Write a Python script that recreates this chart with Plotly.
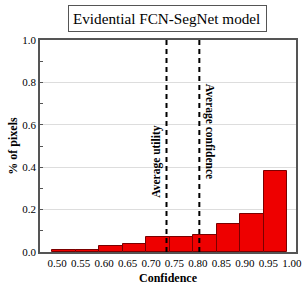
import plotly.graph_objects as go

# data
bin_left = [0.49, 0.54, 0.59, 0.64, 0.69, 0.74, 0.79, 0.84, 0.89, 0.94]
bin_width = 0.05
pct_pixels = [0.01, 0.01, 0.03, 0.04, 0.07, 0.07, 0.08, 0.13, 0.18, 0.38]
avg_utility = 0.733
avg_confidence = 0.803
x_ticks = [0.50, 0.55, 0.60, 0.65, 0.70, 0.75, 0.80, 0.85, 0.90, 0.95, 1.00]
y_ticks = [0.0, 0.2, 0.4, 0.6, 0.8, 1.0]

FONT = "Liberation Serif, Times New Roman, serif"
AX = "#555555"

centers = [b + bin_width / 2 for b in bin_left]

fig = go.Figure()
fig.add_trace(go.Bar(
    x=centers, y=pct_pixels, width=bin_width,
    marker=dict(color="#EE0000", line=dict(color="#7a0000", width=1)),
    showlegend=False, hoverinfo="skip",
))

for xv in (avg_utility, avg_confidence):
    fig.add_shape(type="line", xref="x", yref="y", x0=xv, x1=xv, y0=0, y1=1.0,
                  line=dict(color="black", width=2, dash="5px,4px"))

fig.add_annotation(x=avg_utility, y=0.428, xref="x", yref="y", text="<b>Average utility</b>",
                   textangle=-90, showarrow=False, xanchor="center", yanchor="middle", xshift=-10,
                   font=dict(family=FONT, size=11.5, color="black"))
fig.add_annotation(x=avg_confidence, y=0.57, xref="x", yref="y", text="<b>Average confidence</b>",
                   textangle=90, showarrow=False, xanchor="center", yanchor="middle", xshift=10,
                   font=dict(family=FONT, size=11.5, color="black"))

fig.add_annotation(x=0.499, y=1.101, xref="paper", yref="paper", text="Evidential FCN-SegNet model",
                   showarrow=False, xanchor="center", yanchor="middle", width=189, align="left",
                   bordercolor="#555555", borderwidth=1, borderpad=4, bgcolor="white",
                   font=dict(family=FONT, size=15.2, color="black"))

fig.update_layout(
    width=303, height=285,
    margin=dict(l=40, r=7, t=40, b=33, autoexpand=False),
    paper_bgcolor="white", plot_bgcolor="white",
    font=dict(family=FONT, size=11, color="black"),
    bargap=0,
)
fig.update_xaxes(
    range=[0.4634, 1.009], tickvals=x_ticks, ticktext=[f"{v:.2f}" for v in x_ticks],
    showgrid=False, showline=True, linecolor=AX, linewidth=1.5, mirror=True,
    ticks="", zeroline=False, automargin=False, ticklabeloverflow="allow",
    title=dict(text="<b>Confidence</b>", font=dict(family=FONT, size=12), standoff=10),
    tickfont=dict(family=FONT, size=11),
)
fig.update_yaxes(
    range=[0, 1.0], tickvals=y_ticks, ticktext=[f"{v:.1f}" for v in y_ticks],
    showgrid=True, gridcolor="#dddddd", gridwidth=1,
    showline=True, linecolor=AX, linewidth=1.5, mirror=True,
    ticks="inside", ticklen=3, tickcolor=AX, zeroline=False, automargin=False,
    minor=dict(dtick=0.1, tick0=0.1, ticks="inside", ticklen=3, tickcolor=AX, showgrid=False),
    title=dict(text="<b>% of pixels</b>", font=dict(family=FONT, size=12), standoff=2),
    tickfont=dict(family=FONT, size=11),
)

fig.write_html("out.html", config={"displayModeBar": False},
               post_script="document.body.style.margin='0';document.body.style.overflow='hidden';")
